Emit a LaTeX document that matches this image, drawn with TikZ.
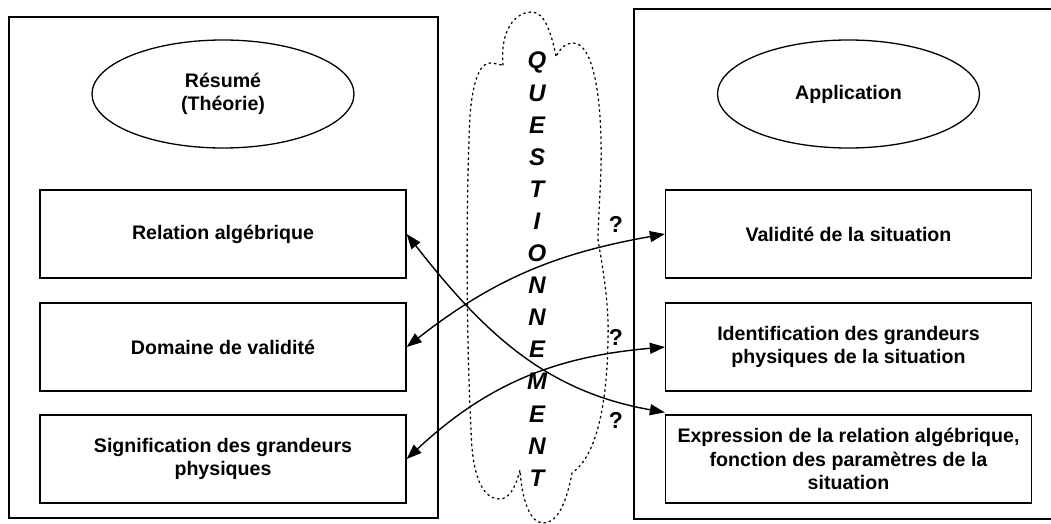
\documentclass[tikz,border=0pt]{standalone}
\usepackage{fontspec}
\setmainfont{Liberation Sans}
\usetikzlibrary{arrows.meta,shapes.geometric}
\tikzset{
  frame/.style={draw,line width=1.3pt},
  box/.style={draw,line width=1.3pt,minimum width=366pt,minimum height=88pt,align=center,inner sep=0pt,font=\fontsize{19.6}{23.5}\selectfont\bfseries},
  oval/.style={draw,ellipse,line width=1.3pt,minimum width=262pt,minimum height=108pt,align=center,inner sep=0pt,font=\fontsize{19.6}{23.5}\selectfont\bfseries},
  link/.style={line width=1.4pt,{Triangle[length=15pt,width=11pt]}-{Triangle[length=15pt,width=11pt]}},
  qmark/.style={font=\fontsize{23}{26}\selectfont\bfseries,inner sep=0pt},
  cloud/.style={line width=1.3pt,dash pattern=on 1.6pt off 3.8pt,line cap=round}
}
\begin{document}
\begin{tikzpicture}[x=1pt,y=1pt]
\useasboundingbox (0,0) rectangle (1051,-524);
\clip (0,0) rectangle (1051,-524);
% outer frames
\draw[frame] (9,-17) rectangle (438,-518);
\draw[frame] (634,-9) rectangle (1060,-519);
% ellipses
\node[oval] (res) at (223,-94) {Résumé\\(Théorie)};
\node[oval] (app) at (848.5,-94) {Application};
% left boxes
\node[box] (lb1) at (223,-234) {Relation algébrique};
\node[box] (lb2) at (223,-347) {Domaine de validité};
\node[box] (lb3) at (223,-459) {Signification des grandeurs\\physiques};
% right boxes
\node[box] (rb1) at (848.5,-234) {Validité de la situation};
\node[box] (rb2) at (848.5,-347) {Identification des grandeurs\\physiques de la situation};
\node[box] (rb3) at (848.5,-459) {Expression de la relation algébrique,\\fonction des paramètres de la\\situation};
% cloud
\draw[cloud] (503,-65) .. controls (500,-30) and (515,-12) .. (532,-12)
  .. controls (545,-12) and (552,-35) .. (556,-57)
  .. controls (560,-48) and (566,-43) .. (573,-43)
  .. controls (592,-43) and (600,-90) .. (601,-140)
  .. controls (602,-180) and (598,-215) .. (598,-240)
  .. controls (605,-280) and (609,-310) .. (608,-340)
  .. controls (607,-400) and (598,-455) .. (572,-473)
  .. controls (565,-510) and (555,-523) .. (543,-523)
  .. controls (530,-523) and (522,-500) .. (520,-470)
  .. controls (515,-490) and (508,-499) .. (500,-499)
  .. controls (480,-499) and (472,-470) .. (471,-430)
  .. controls (466,-330) and (466,-200) .. (470,-115)
  .. controls (473,-80) and (480,-63) .. (490,-63)
  .. controls (495,-63) and (500,-65) .. (503,-65);
% vertical word
\node[font=\fontsize{24}{32.1}\selectfont\bfseries\itshape,align=center,inner sep=0pt,anchor=north] (q) at (537,-52)
  {Q\\U\\E\\S\\T\\I\\O\\N\\N\\E\\M\\E\\N\\T};
% connectors
\coordinate (t3) at ([yshift=2pt]rb3.north west);
\draw[link] (lb1.east) to[out=-52,in=170] (t3);
\draw[link] (lb2.east) to[out=38,in=190] (rb1.west);
\draw[link] (lb3.east) to[out=43,in=185] (rb2.west);
% question marks
\node[qmark] (q1) at (616,-224) {?};
\node[qmark] (q2) at (616,-337) {?};
\node[qmark] (q3) at (616,-420) {?};
\end{tikzpicture}
\end{document}
